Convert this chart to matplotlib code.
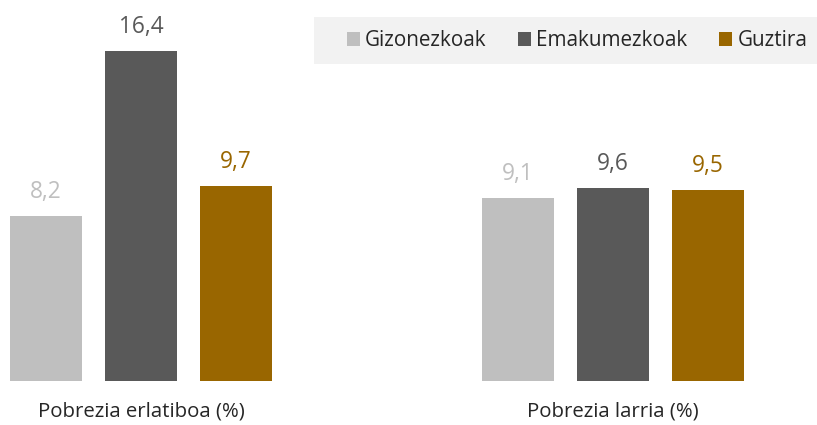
import matplotlib
matplotlib.use("Agg")
import matplotlib.pyplot as plt
from matplotlib.patches import Rectangle
import numpy as np

categories = ["Pobrezia erlatiboa (%)", "Pobrezia larria (%)"]
series = ["Gizonezkoak", "Emakumezkoak", "Guztira"]
gizonezkoak = [8.2, 9.1]
emakumezkoak = [16.4, 9.6]
guztira = [9.7, 9.5]
labels_fmt = lambda v: f"{v:.1f}".replace(".", ",")

colors = ["#BFBFBF", "#595959", "#996600"]

plt.rcParams['font.family'] = ['Open Sans', 'DejaVu Sans']

W, H = 817, 425
fig = plt.figure(figsize=(W / 100, H / 100), dpi=100)
ax = fig.add_axes([0, 0, 1, 1])

x = np.arange(len(categories))
step = 95 / 472
width = 72 / 472
data = [gizonezkoak, emakumezkoak, guztira]
handles = []
for i, (name, vals, c) in enumerate(zip(series, data, colors)):
    bars = ax.bar(x + (i - 1) * step, vals, width=width, color=c, label=name)
    handles.append(bars)
    for b, v in zip(bars, vals):
        ax.text(b.get_x() + b.get_width() / 2, v + 0.9, labels_fmt(v),
                ha="center", va="baseline", fontsize=16.3, color=c)

for xi, cat in zip(x, categories):
    ax.text(xi, -1.5, cat, ha="center", va="center", fontsize=14.7, color="#262626")

ax.set_xlim(-141 / 472, (W - 141) / 472)
ax.set_ylim(-44 / 20.12, 381 / 20.12)
ax.axis("off")

# legend background band
fig.patches.append(Rectangle((314 / W, 1 - 64 / H), 503 / W, 47 / H,
                             transform=fig.transFigure, facecolor="#F2F2F2",
                             edgecolor="none", zorder=0))

fs = 14.9
leg = fig.legend(handles=handles, labels=series, ncol=3, loc="center left",
                 bbox_to_anchor=(347 / W, 1 - 41 / H), frameon=False,
                 fontsize=fs, handlelength=13 / (fs * 100 / 72),
                 handleheight=13 / (fs * 100 / 72),
                 handletextpad=0.25, columnspacing=1.52, borderpad=0,
                 borderaxespad=0)
for t in leg.get_texts():
    t.set_color("#262626")

fig.savefig("out.png", dpi=100)
